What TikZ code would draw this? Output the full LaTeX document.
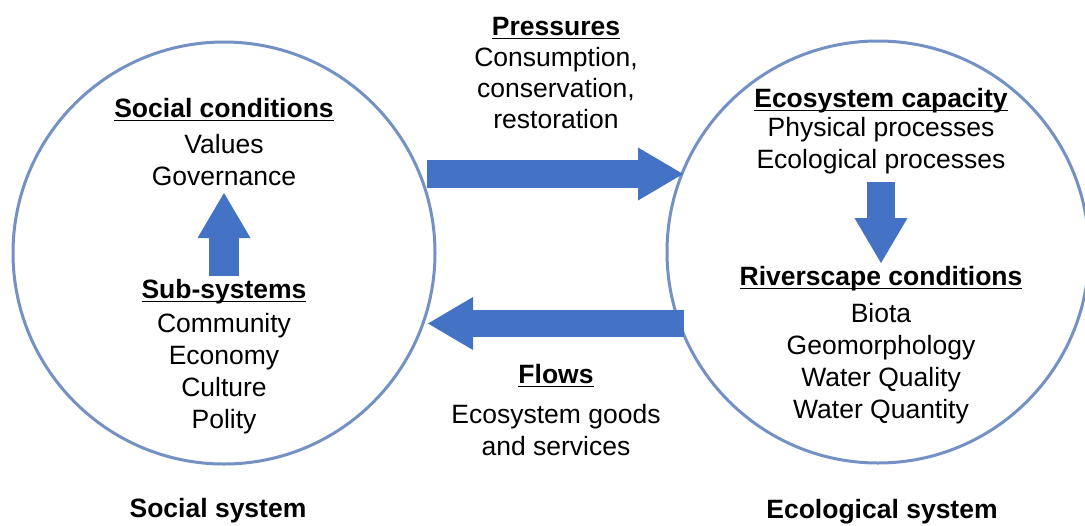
\documentclass[tikz,border=0pt]{standalone}
\usepackage{fontspec}
\setmainfont{Liberation Sans}
\usetikzlibrary{arrows.meta}

\definecolor{arrowblue}{HTML}{4472C4}
\definecolor{ringblue}{HTML}{7391C3}

\newsavebox{\hdbox}
\newcommand{\uhead}[1]{\sbox{\hdbox}{\bfseries #1}\rlap{\rule[-2.2pt]{\wd\hdbox}{0.9pt}}\usebox{\hdbox}}

\begin{document}
\begin{tikzpicture}[x=0.5pt, y=-0.5pt,
    every node/.style={font=\fontsize{13.25}{16}\selectfont, inner sep=0pt},
    txt/.style={anchor=base, align=center},
    ring/.style={circle, draw=ringblue, line width=1.5pt, minimum size=211pt},
    bigarrow/.style={draw=arrowblue, line width=14pt,
        -{Triangle[length=22.5pt, width=26.5pt, line width=0pt]}}]
    \useasboundingbox (0,0) rectangle (1085,525);

    % the two systems
    \node[ring] (socialring) at (224,253) {};
    \node[ring] (ecoring) at (878,252) {};

    % social side (lists sit on their last line)
    \node[txt] (socialcond) at (224,117) {\uhead{Social conditions}};
    \node[txt] (socialitems) at (224,185) {Values\\Governance};
    \node[txt] (subsys) at (224,298) {\uhead{Sub-systems}};
    \node[txt] (subitems) at (224,428) {Community\\Economy\\Culture\\Polity};
    \node[txt] (sociallabel) at (218,517) {\bfseries Social system};

    % between
    \node[txt] (press) at (556,35) {\uhead{Pressures}};
    \node[txt, font=\fontsize{13.25}{15.5}\selectfont] (pressitems) at (556,128) {Consumption,\\conservation,\\restoration};
    \node[txt] (flows) at (556,383) {\uhead{Flows}};
    \node[txt] (flowitems) at (556,455) {Ecosystem goods\\and services};

    % ecological side
    \node[txt] (ecocap) at (881,107) {\uhead{Ecosystem capacity}};
    \node[txt] (ecoitems) at (881,168) {Physical processes\\Ecological processes};
    \node[txt] (riverscape) at (881,285) {\uhead{Riverscape conditions}};
    \node[txt] (riveritems) at (881,418) {Biota\\Geomorphology\\Water Quality\\Water Quantity};
    \node[txt] (ecolabel) at (882,518) {\bfseries Ecological system};

    % arrow ends
    \coordinate (upTail) at (224,276);
    \coordinate (upTip) at (224,193);
    \coordinate (downTail) at (881,182);
    \coordinate (downTip) at (881,263);
    \coordinate (pressTail) at (427,174);
    \coordinate (pressTip) at (683,174);
    \coordinate (flowTail) at (684,323.5);
    \coordinate (flowTip) at (428,323.5);

    \draw[bigarrow, line width=15pt] (upTail) -- (upTip);
    \draw[bigarrow] (downTail) -- (downTip);
    \draw[bigarrow] (pressTail) -- (pressTip);
    \draw[bigarrow, line width=13.5pt] (flowTail) -- (flowTip);
\end{tikzpicture}
\end{document}
